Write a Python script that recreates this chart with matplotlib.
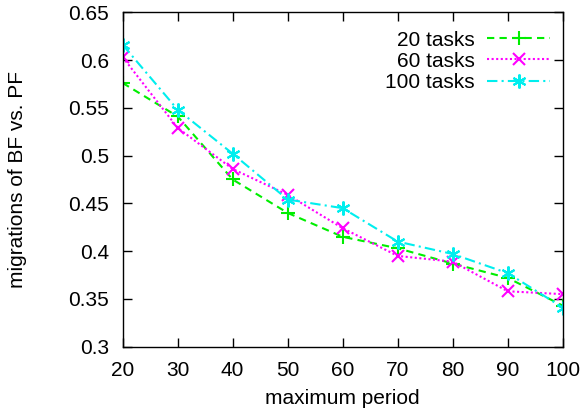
import matplotlib
matplotlib.use('Agg')
import matplotlib.pyplot as plt

plt.rcParams['font.family'] = ['Liberation Sans', 'DejaVu Sans']

periods = [20, 30, 40, 50, 60, 70, 80, 90, 100]
tasks20 = [0.576, 0.541, 0.475, 0.440, 0.415, 0.403, 0.387, 0.372, 0.343]
tasks60 = [0.603, 0.529, 0.486, 0.459, 0.424, 0.395, 0.389, 0.358, 0.355]
tasks100 = [0.616, 0.548, 0.502, 0.454, 0.445, 0.410, 0.397, 0.377, 0.341]

fig = plt.figure(figsize=(5.85, 4.15), dpi=100)
ax = fig.add_axes([0.2097, 0.1646, 0.7522, 0.8058])

ax.plot(periods, tasks20, color='#00ee00', linestyle=(0, (3.5, 2.5)), linewidth=1.5,
        marker='+', markersize=10, markeredgewidth=1.5, label='20 tasks')
ax.plot(periods, tasks60, color='#ff00ff', linestyle=(0, (1, 1.2)), linewidth=1.5,
        marker='x', markersize=8, markeredgewidth=1.5, label='60 tasks')
ax.plot(periods, tasks100, color='#00eeee', linestyle=(0, (5, 2, 1, 2)), linewidth=1.5,
        marker=(6, 2, 0), markersize=10, markeredgewidth=1.5, label='100 tasks')

ax.set_xlim(20, 100)
ax.set_ylim(0.3, 0.65)
ax.set_xticks([20, 30, 40, 50, 60, 70, 80, 90, 100])
ax.set_yticks([0.3, 0.35, 0.4, 0.45, 0.5, 0.55, 0.6, 0.65])
ax.set_yticklabels(['0.3', '0.35', '0.4', '0.45', '0.5', '0.55', '0.6', '0.65'])
ax.tick_params(direction='in', length=6.5, width=1, labelsize=15, top=True, right=True)
ax.tick_params(axis='y', pad=10)
ax.tick_params(axis='x', pad=10)
for s in ax.spines.values():
    s.set_linewidth(1)

ax.set_xlabel('maximum period', fontsize=15, va='center')
ax.set_ylabel('migrations of BF vs. PF', fontsize=15, va='center')
ax.xaxis.set_label_coords(0.5, -0.155)
ax.yaxis.set_label_coords(-0.238, 0.5)

ax.legend(loc='upper right', bbox_to_anchor=(0.971, 0.945), frameon=False, markerfirst=False,
          fontsize=15, handlelength=3.0, numpoints=1, labelspacing=0.1, borderaxespad=0,
          borderpad=0, handletextpad=0.6)

fig.savefig('out.png', dpi=100)
